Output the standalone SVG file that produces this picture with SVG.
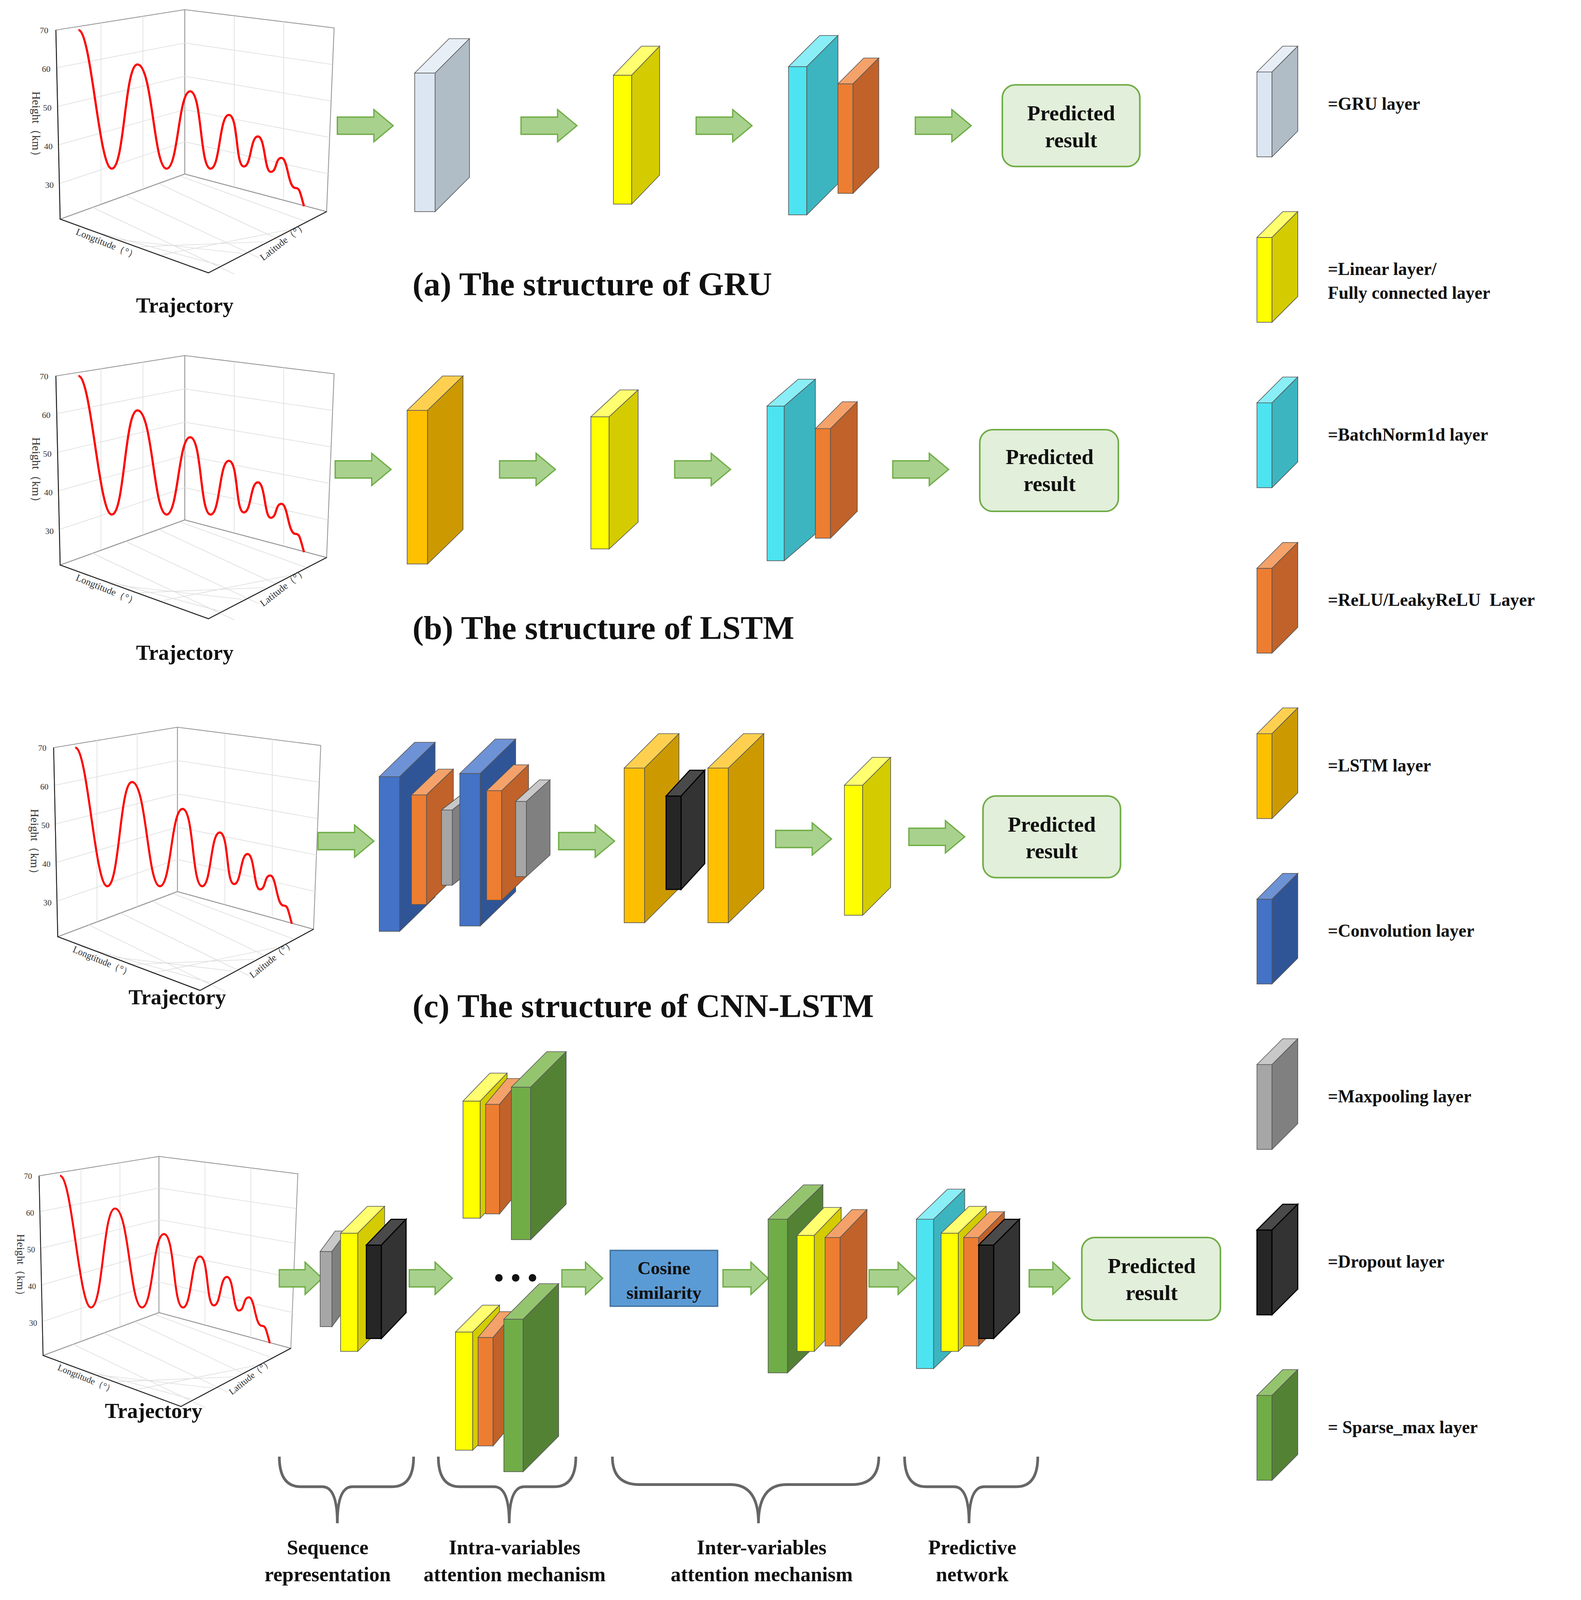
<svg xmlns="http://www.w3.org/2000/svg" width="4047" height="4298" viewBox="0 0 4047 4298">
<style>
text{font-family:"Liberation Serif",serif;font-weight:bold;fill:#111}
.t{font-size:31px}.p{font-size:20px;text-anchor:middle}.l{font-size:16.5px}.s{font-size:19px;text-anchor:middle}
.ar{fill:#a9d18e;stroke:#70ad47;stroke-width:1.2}
.pr{fill:#e2efda;stroke:#70ad47;stroke-width:1.5}
.yF{fill:#ffff00}.yT{fill:#ffff70}.yS{fill:#d4cc00}
.cF{fill:#4de3f0}.cT{fill:#8aeef6}.cS{fill:#3cb5c0}
.oF{fill:#ed7d31}.oT{fill:#f4a26a}.oS{fill:#c0622a}
.lF{fill:#ffc000}.lT{fill:#ffd050}.lS{fill:#cc9a00}
.bF{fill:#4472c4}.bT{fill:#6e92d6}.bS{fill:#2f5597}
.gF{fill:#a6a6a6}.gT{fill:#c8c8c8}.gS{fill:#808080}
.kF{fill:#262626}.kT{fill:#4a4a4a}.kS{fill:#333}
.nF{fill:#70ad47}.nT{fill:#95c46f}.nS{fill:#548235}
.uF{fill:#dce6f2}.uT{fill:#e8eef6}.uS{fill:#b0bcc6}
.bx rect,.bx polygon{stroke:#555;stroke-width:0.6}
.k rect,.k polygon{stroke:#000;stroke-width:1}
.gr{stroke:#ddd;stroke-width:0.6;fill:none}
.ax{stroke:#999;stroke-width:0.8;fill:none}
.dk{stroke:#222;stroke-width:0.9;fill:none}
.tk{font-family:"Liberation Serif",serif;font-size:8px;font-weight:normal;fill:#333}
.br{fill:none;stroke:#666;stroke-width:2.5}
</style>
<defs>
<g id="plot">
<polygon points="52,28 172,9 172,162 56,204" fill="#fff" class="ax"/>
<polygon points="172,9 311,26 304,197 172,162" fill="#fff" class="ax"/>
<polygon points="56,204 172,162 304,197 194,254" fill="#fff" class="ax"/>
<path class="gr" d="M53,63 L172,40 L309,60 M54,99 L172,71 L308,94 M54,135 L172,102 L307,128 M55,171 L172,132 L306,162 M94,21 V190 M133,15 V176 M218,15 V174 M264,20 V185 M78,213 L205,247 M101,222 L226,236 M124,230 L247,225 M147,238 L268,214 M86,193 L218,255 M117,182 L241,240 M148,171 L264,225 M168,164 L287,207"/>
<path class="dk" d="M52,28 L56,204 L194,254 L304,197"/>
<text class="tk" x="37" y="31">70</text><text class="tk" x="39" y="67">60</text><text class="tk" x="40" y="103">50</text><text class="tk" x="41" y="139">40</text><text class="tk" x="42" y="175">30</text>
<text class="tk" style="font-size:11px" transform="translate(30,85) rotate(90)">Height（km）</text>
<text class="tk" style="font-size:9px" transform="translate(70,218) rotate(22)">Longtitude（°）</text>
<text class="tk" style="font-size:9px" transform="translate(245,243) rotate(-38)">Latitude（°）</text>
<path d="M73,28 C85,28 92,157 104,157 C116,157 116,60 128,60 C142,60 143,157 155,157 C166,157 166,85 177,85 C188,85 186,157 196,157 C205,157 204,107 213,107 C222,107 219,155 227,155 C234,155 233,127 240,127 C247,127 246,160 252,160 C258,160 256,147 262,147 C268,147 268,175 275,175 C279,175 279,178 283,192" fill="none" stroke="#f00" stroke-width="2"/>
</g>
</defs>
<g transform="scale(2.75)">
<g id="plots">
<use href="#plot"/>
<use href="#plot" transform="translate(0,322)"/>
<use href="#plot" transform="translate(0,668) scale(0.96,1)"/>
<use href="#plot" transform="translate(-12,1068) scale(0.93,0.95)"/>
</g>
<g id="connectors">
<path class="ar" d="M314,109 H348 V102 L366,117 L348,132 V125 H314 Z"/>
<path class="ar" d="M485,109 H519 V102 L537,117 L519,132 V125 H485 Z"/>
<path class="ar" d="M648,109 H682 V102 L700,117 L682,132 V125 H648 Z"/>
<path class="ar" d="M852,109 H886 V102 L904,117 L886,132 V125 H852 Z"/>
<path class="ar" d="M312,429 H346 V422 L364,437 L346,452 V445 H312 Z"/>
<path class="ar" d="M465,429 H499 V422 L517,437 L499,452 V445 H465 Z"/>
<path class="ar" d="M628,429 H662 V422 L680,437 L662,452 V445 H628 Z"/>
<path class="ar" d="M831,429 H865 V422 L883,437 L865,452 V445 H831 Z"/>
<path class="ar" d="M296,775 H330 V768 L348,783 L330,798 V791 H296 Z"/>
<path class="ar" d="M520,775 H554 V768 L572,783 L554,798 V791 H520 Z"/>
<path class="ar" d="M722,773 H756 V766 L774,781 L756,796 V789 H722 Z"/>
<path class="ar" d="M846,771 H880 V764 L898,779 L880,794 V787 H846 Z"/>
<path class="ar" d="M260,1182 H284 V1175 L300,1190 L284,1205 V1198 H260 Z"/>
<path class="ar" d="M381,1182 H405 V1175 L421,1190 L405,1205 V1198 H381 Z"/>
<path class="ar" d="M523,1182 H545 V1175 L561,1190 L545,1205 V1198 H523 Z"/>
<path class="ar" d="M673,1182 H699 V1175 L715,1190 L699,1205 V1198 H673 Z"/>
<path class="ar" d="M809,1182 H836 V1175 L852,1190 L836,1205 V1198 H809 Z"/>
<path class="ar" d="M958,1182 H980 V1175 L996,1190 L980,1205 V1198 H958 Z"/>
</g>
<g id="gru-a" class="bx"><rect class="uF" x="386" y="68" width="19" height="129"/><polygon class="uT" points="386,68 418,36 437,36 405,68"/><polygon class="uS" points="405,68 437,36 437,165 405,197"/></g>
<g id="lin-a" class="bx"><rect class="yF" x="571" y="70" width="17" height="120"/><polygon class="yT" points="571,70 597,43 614,43 588,70"/><polygon class="yS" points="588,70 614,43 614,163 588,190"/></g>
<g id="bn-a" class="bx"><rect class="cF" x="734" y="62" width="17" height="138"/><polygon class="cT" points="734,62 763,33 780,33 751,62"/><polygon class="cS" points="751,62 780,33 780,171 751,200"/></g>
<g id="relu-a" class="bx"><rect class="oF" x="780" y="78" width="14" height="102"/><polygon class="oT" points="780,78 804,54 818,54 794,78"/><polygon class="oS" points="794,78 818,54 818,156 794,180"/></g>
<g id="pred-a"><rect class="pr" x="933" y="79" width="128" height="76" rx="12"/><text class="p" x="997" y="112">Predicted</text><text class="p" x="997" y="137">result</text></g>
<text class="t" x="384" y="275">(a) The structure of GRU</text>
<text class="p" x="172" y="291">Trajectory</text>

<g id="lstm-b" class="bx"><rect class="lF" x="379" y="382" width="19" height="143"/><polygon class="lT" points="379,382 412,350 431,350 398,382"/><polygon class="lS" points="398,382 431,350 431,493 398,525"/></g>
<g id="lin-b" class="bx"><rect class="yF" x="550" y="388" width="17" height="123"/><polygon class="yT" points="550,388 577,363 594,363 567,388"/><polygon class="yS" points="567,388 594,363 594,486 567,511"/></g>
<g id="bn-b" class="bx"><rect class="cF" x="714" y="378" width="16" height="144"/><polygon class="cT" points="714,378 743,353 759,353 730,378"/><polygon class="cS" points="730,378 759,353 759,497 730,522"/></g>
<g id="relu-b" class="bx"><rect class="oF" x="759" y="399" width="14" height="102"/><polygon class="oT" points="759,399 784,374 798,374 773,399"/><polygon class="oS" points="773,399 798,374 798,476 773,501"/></g>
<g id="pred-b"><rect class="pr" x="912" y="400" width="129" height="76" rx="12"/><text class="p" x="977" y="432">Predicted</text><text class="p" x="977" y="457">result</text></g>
<text class="t" x="384" y="595">(b) The structure of LSTM</text>
<text class="p" x="172" y="614">Trajectory</text>

<g id="conv1-c" class="bx"><rect class="bF" x="353" y="723" width="19" height="144"/><polygon class="bT" points="353,723 386,691 405,691 372,723"/><polygon class="bS" points="372,723 405,691 405,835 372,867"/></g>
<g id="relu1-c" class="bx"><rect class="oF" x="383" y="740" width="14" height="102"/><polygon class="oT" points="383,740 408,716 422,716 397,740"/><polygon class="oS" points="397,740 422,716 422,818 397,842"/></g>
<g id="pool1-c" class="bx"><rect class="gF" x="411" y="754" width="10" height="70"/><polygon class="gT" points="411,754 429,740 439,740 421,754"/><polygon class="gS" points="421,754 439,740 439,810 421,824"/></g>
<g id="conv2-c" class="bx"><rect class="bF" x="428" y="720" width="19" height="142"/><polygon class="bT" points="428,720 461,688 480,688 447,720"/><polygon class="bS" points="447,720 480,688 480,830 447,862"/></g>
<g id="relu2-c" class="bx"><rect class="oF" x="453" y="736" width="14" height="102"/><polygon class="oT" points="453,736 478,712 492,712 467,736"/><polygon class="oS" points="467,736 492,712 492,814 467,838"/></g>
<g id="pool2-c" class="bx"><rect class="gF" x="480" y="746" width="10" height="70"/><polygon class="gT" points="480,746 502,726 512,726 490,746"/><polygon class="gS" points="490,746 512,726 512,796 490,816"/></g>
<g id="lstm1-c" class="bx"><rect class="lF" x="581" y="715" width="19" height="144"/><polygon class="lT" points="581,715 613,683 632,683 600,715"/><polygon class="lS" points="600,715 632,683 632,827 600,859"/></g>
<g id="drop-c" class="bx k"><rect class="kF" x="620" y="741" width="14" height="87"/><polygon class="kT" points="620,741 642,717 656,717 634,741"/><polygon class="kS" points="634,741 656,717 656,804 634,828"/></g>
<g id="lstm2-c" class="bx"><rect class="lF" x="659" y="715" width="19" height="144"/><polygon class="lT" points="659,715 692,683 711,683 678,715"/><polygon class="lS" points="678,715 711,683 711,827 678,859"/></g>
<g id="lin-c" class="bx"><rect class="yF" x="786" y="731" width="17" height="121"/><polygon class="yT" points="786,731 812,705 829,705 803,731"/><polygon class="yS" points="803,731 829,705 829,826 803,852"/></g>
<g id="pred-c"><rect class="pr" x="915" y="741" width="128" height="76" rx="12"/><text class="p" x="979" y="774">Predicted</text><text class="p" x="979" y="799">result</text></g>
<text class="t" x="384" y="947">(c) The structure of CNN-LSTM</text>
<text class="p" x="165" y="935">Trajectory</text>

<g id="pool-d" class="bx"><rect class="gF" x="298" y="1165" width="11" height="70"/><polygon class="gT" points="298,1165 312,1146 323,1146 309,1165"/><polygon class="gS" points="309,1165 323,1146 323,1216 309,1235"/></g>
<g id="lin1-d" class="bx"><rect class="yF" x="317" y="1148" width="16" height="110"/><polygon class="yT" points="317,1148 342,1123 358,1123 333,1148"/><polygon class="yS" points="333,1148 358,1123 358,1233 333,1258"/></g>
<g id="drop1-d" class="bx k"><rect class="kF" x="341" y="1159" width="14" height="87"/><polygon class="kT" points="341,1159 364,1135 378,1135 355,1159"/><polygon class="kS" points="355,1159 378,1135 378,1222 355,1246"/></g>
<g id="lin2-d" class="bx"><rect class="yF" x="431" y="1025" width="16" height="109"/><polygon class="yT" points="431,1025 456,999 472,999 447,1025"/><polygon class="yS" points="447,1025 472,999 472,1108 447,1134"/></g>
<g id="relu2-d" class="bx"><rect class="oF" x="452" y="1028" width="13" height="102"/><polygon class="oT" points="452,1028 472,1004 485,1004 465,1028"/><polygon class="oS" points="465,1028 485,1004 485,1106 465,1130"/></g>
<g id="sp2-d" class="bx"><rect class="nF" x="476" y="1012" width="18" height="142"/><polygon class="nT" points="476,1012 509,979 527,979 494,1012"/><polygon class="nS" points="494,1012 527,979 527,1121 494,1154"/></g>
<text x="480" y="1198" style="font-size:26px;text-anchor:middle">• • •</text>
<g id="lin3-d" class="bx"><rect class="yF" x="424" y="1240" width="16" height="110"/><polygon class="yT" points="424,1240 449,1215 465,1215 440,1240"/><polygon class="yS" points="440,1240 465,1215 465,1325 440,1350"/></g>
<g id="relu3-d" class="bx"><rect class="oF" x="445" y="1245" width="14" height="101"/><polygon class="oT" points="445,1245 465,1221 479,1221 459,1245"/><polygon class="oS" points="459,1245 479,1221 479,1322 459,1346"/></g>
<g id="sp3-d" class="bx"><rect class="nF" x="469" y="1228" width="18" height="142"/><polygon class="nT" points="469,1228 502,1195 520,1195 487,1228"/><polygon class="nS" points="487,1228 520,1195 520,1337 487,1370"/></g>
<g id="cos-d"><rect x="568" y="1164" width="100" height="52" fill="#5b9bd5" stroke="#41719c" stroke-width="1.2"/><text x="618" y="1186" style="font-size:17px;text-anchor:middle">Cosine</text><text x="618" y="1209" style="font-size:17px;text-anchor:middle">similarity</text></g>
<g id="sp4-d" class="bx"><rect class="nF" x="715" y="1135" width="18" height="143"/><polygon class="nT" points="715,1135 748,1103 766,1103 733,1135"/><polygon class="nS" points="733,1135 766,1103 766,1246 733,1278"/></g>
<g id="lin4-d" class="bx"><rect class="yF" x="742" y="1150" width="16" height="108"/><polygon class="yT" points="742,1150 767,1124 783,1124 758,1150"/><polygon class="yS" points="758,1150 783,1124 783,1232 758,1258"/></g>
<g id="relu4-d" class="bx"><rect class="oF" x="768" y="1152" width="14" height="101"/><polygon class="oT" points="768,1152 793,1126 807,1126 782,1152"/><polygon class="oS" points="782,1152 807,1126 807,1227 782,1253"/></g>
<g id="bn-d" class="bx"><rect class="cF" x="853" y="1135" width="16" height="139"/><polygon class="cT" points="853,1135 882,1107 898,1107 869,1135"/><polygon class="cS" points="869,1135 898,1107 898,1246 869,1274"/></g>
<g id="lin5-d" class="bx"><rect class="yF" x="876" y="1148" width="16" height="110"/><polygon class="yT" points="876,1148 902,1123 918,1123 892,1148"/><polygon class="yS" points="892,1148 918,1123 918,1233 892,1258"/></g>
<g id="relu5-d" class="bx"><rect class="oF" x="897" y="1152" width="14" height="101"/><polygon class="oT" points="897,1152 921,1128 935,1128 911,1152"/><polygon class="oS" points="911,1152 935,1128 935,1229 911,1253"/></g>
<g id="drop5-d" class="bx k"><rect class="kF" x="911" y="1159" width="14" height="87"/><polygon class="kT" points="911,1159 935,1135 949,1135 925,1159"/><polygon class="kS" points="925,1159 949,1135 949,1222 925,1246"/></g>
<g id="pred-d"><rect class="pr" x="1007" y="1152" width="129" height="77" rx="12"/><text class="p" x="1072" y="1185">Predicted</text><text class="p" x="1072" y="1210">result</text></g>
<text class="p" x="143" y="1320">Trajectory</text>
<g id="braces">
<path class="br" d="M260,1356 Q260,1384 280,1384 H300 Q314,1384 314,1418 Q314,1384 328,1384 H365 Q385,1384 385,1356"/>
<path class="br" d="M408,1356 Q408,1384 428,1384 H460 Q474,1384 474,1418 Q474,1384 488,1384 H516 Q536,1384 536,1356"/>
<path class="br" d="M570,1356 Q570,1382 595,1382 H680 Q706,1382 706,1418 Q706,1382 732,1382 H793 Q818,1382 818,1356"/>
<path class="br" d="M842,1356 Q842,1384 862,1384 H888 Q902,1384 902,1418 Q902,1384 916,1384 H946 Q966,1384 966,1356"/>
</g>
<text class="s" x="305" y="1447">Sequence</text><text class="s" x="305" y="1472">representation</text>
<text class="s" x="479" y="1447">Intra-variables</text><text class="s" x="479" y="1472">attention mechanism</text>
<text class="s" x="709" y="1447">Inter-variables</text><text class="s" x="709" y="1472">attention mechanism</text>
<text class="s" x="905" y="1447">Predictive</text><text class="s" x="905" y="1472">network</text>
<text class="t" x="384" y="1540">(d) The structure of SASM</text>

<g id="legend">
<g class="bx"><rect class="uF" x="1170" y="67" width="14" height="79"/><polygon class="uT" points="1170,67 1194,43 1208,43 1184,67"/><polygon class="uS" points="1184,67 1208,43 1208,122 1184,146"/></g>
<text class="l" x="1236" y="102">=GRU layer</text>
<g class="bx" transform="translate(0,154)"><rect class="yF" x="1170" y="67" width="14" height="79"/><polygon class="yT" points="1170,67 1194,43 1208,43 1184,67"/><polygon class="yS" points="1184,67 1208,43 1208,122 1184,146"/></g>
<text class="l" x="1236" y="256">=Linear layer/</text><text class="l" x="1236" y="278">Fully connected layer</text>
<g class="bx" transform="translate(0,308)"><rect class="cF" x="1170" y="67" width="14" height="79"/><polygon class="cT" points="1170,67 1194,43 1208,43 1184,67"/><polygon class="cS" points="1184,67 1208,43 1208,122 1184,146"/></g>
<text class="l" x="1236" y="410">=BatchNorm1d layer</text>
<g class="bx" transform="translate(0,462)"><rect class="oF" x="1170" y="67" width="14" height="79"/><polygon class="oT" points="1170,67 1194,43 1208,43 1184,67"/><polygon class="oS" points="1184,67 1208,43 1208,122 1184,146"/></g>
<text class="l" x="1236" y="564" xml:space="preserve">=ReLU/LeakyReLU  Layer</text>
<g class="bx" transform="translate(0,616)"><rect class="lF" x="1170" y="67" width="14" height="79"/><polygon class="lT" points="1170,67 1194,43 1208,43 1184,67"/><polygon class="lS" points="1184,67 1208,43 1208,122 1184,146"/></g>
<text class="l" x="1236" y="718">=LSTM layer</text>
<g class="bx" transform="translate(0,770)"><rect class="bF" x="1170" y="67" width="14" height="79"/><polygon class="bT" points="1170,67 1194,43 1208,43 1184,67"/><polygon class="bS" points="1184,67 1208,43 1208,122 1184,146"/></g>
<text class="l" x="1236" y="872">=Convolution layer</text>
<g class="bx" transform="translate(0,924)"><rect class="gF" x="1170" y="67" width="14" height="79"/><polygon class="gT" points="1170,67 1194,43 1208,43 1184,67"/><polygon class="gS" points="1184,67 1208,43 1208,122 1184,146"/></g>
<text class="l" x="1236" y="1026">=Maxpooling layer</text>
<g class="bx k" transform="translate(0,1078)"><rect class="kF" x="1170" y="67" width="14" height="79"/><polygon class="kT" points="1170,67 1194,43 1208,43 1184,67"/><polygon class="kS" points="1184,67 1208,43 1208,122 1184,146"/></g>
<text class="l" x="1236" y="1180">=Dropout layer</text>
<g class="bx" transform="translate(0,1232)"><rect class="nF" x="1170" y="67" width="14" height="79"/><polygon class="nT" points="1170,67 1194,43 1208,43 1184,67"/><polygon class="nS" points="1184,67 1208,43 1208,122 1184,146"/></g>
<text class="l" x="1236" y="1334">= Sparse_max layer</text>
</g>
</g>
</svg>
